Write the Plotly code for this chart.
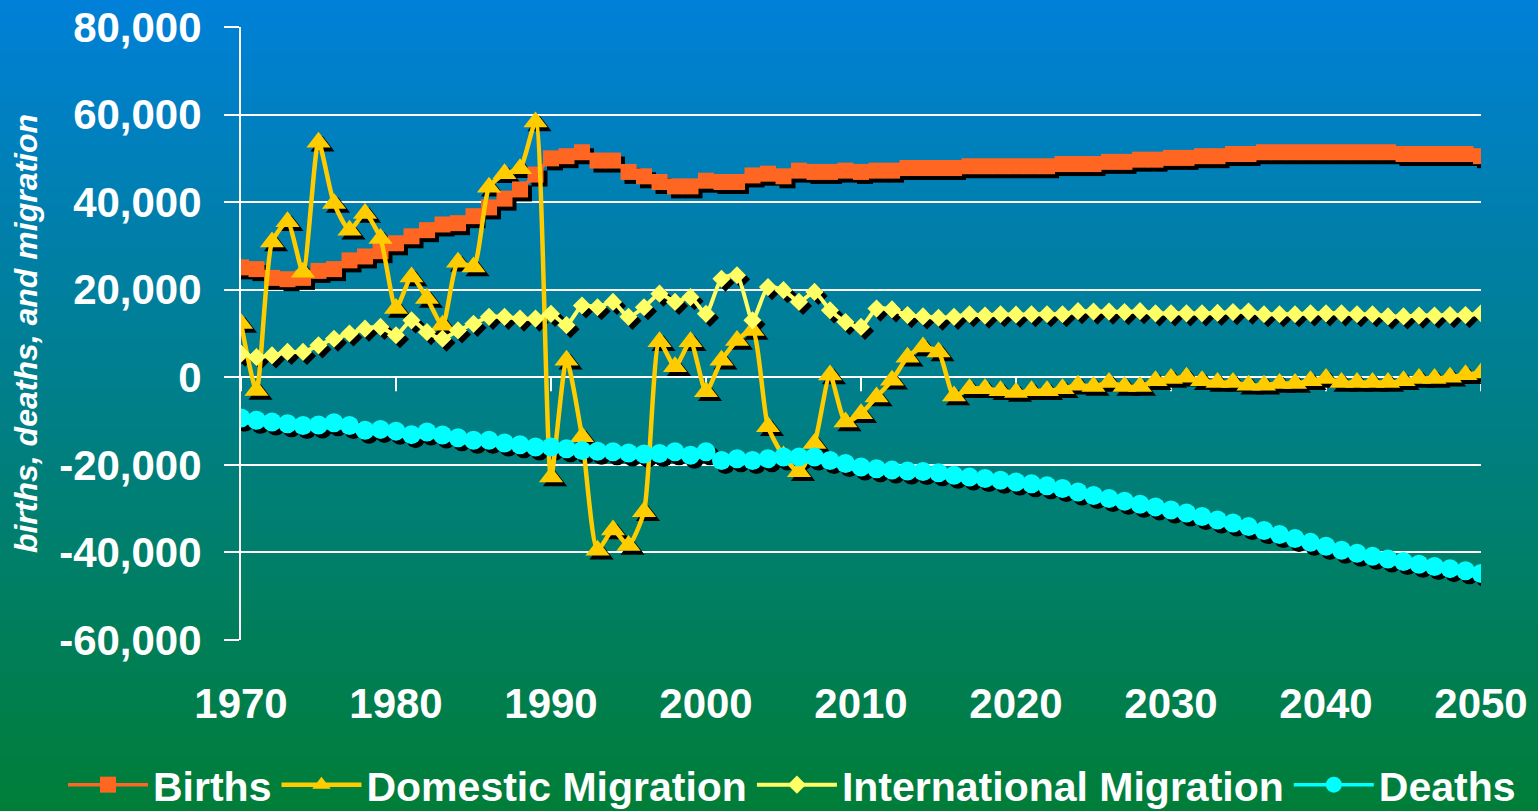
import plotly.graph_objects as go

years = list(range(1970, 2051))

births = [25100, 24700, 22700, 22400, 22700, 24300, 24700, 26700, 27600, 28800,
          30600, 32200, 33600, 34900, 35200, 36800, 38800, 40800, 42900, 46300,
          50000, 50500, 51400, 49500, 49500, 46900, 45900, 44600, 43600, 43600,
          44900, 44600, 44600, 46100, 46500, 45900, 47200, 46900, 46900, 47200,
          46900, 47200, 47200, 47800, 47800, 47800, 47800, 48200, 48200, 48200,
          48200, 48200, 48200, 48700, 48700, 48700, 49200, 49200, 49700, 49700,
          50100, 50100, 50500, 50500, 51000, 51000, 51400, 51400, 51400, 51400,
          51400, 51400, 51400, 51400, 51400, 51000, 51000, 51000, 51000, 51000,
          50500]

domestic = [12300, -3000, 30900, 35500, 24000, 53700, 39700, 33600, 37400, 31700,
            15700, 22900, 18000, 11900, 26300, 25200, 43400, 46500, 47600, 58300,
            -22800, 3900, -13600, -39500, -34900, -38400, -30700, 8100, 2400, 8100,
            -3300, 3900, 8400, 10700, -11300, -18000, -21600, -15100, 500, -10200,
            -8300, -4500, -700, 4600, 6900, 5800, -4300, -2600, -2600, -3100,
            -3500, -3100, -3100, -2600, -1800, -2100, -1200, -2100, -2100, -800,
            -300, 0, -800, -1200, -1200, -1800, -1800, -1400, -1400, -800,
            -300, -1200, -1200, -1200, -1200, -800, -300, -300, 0, 600,
            1000]

international = [5400, 4600, 5000, 5800, 5800, 7300, 8800, 10000, 11100, 11500,
                 9600, 13000, 10300, 8800, 10700, 12200, 13800, 13800, 13400, 13400,
                 14500, 11900, 16400, 16000, 17200, 13800, 16000, 19100, 17200, 18300,
                 14500, 22500, 23300, 13000, 20600, 19900, 17200, 19500, 15300, 12600,
                 11500, 15700, 15500, 14200, 13900, 13600, 13800, 14400, 14100, 14400,
                 14300, 14400, 14400, 14400, 15100, 15000, 15000, 14900, 15100, 14600,
                 14600, 14600, 14600, 14700, 14900, 15000, 14400, 14400, 14400, 14600,
                 14600, 14600, 14400, 14400, 13900, 13900, 14100, 14100, 14200, 14200,
                 14600]

deaths = [-9300, -9800, -10200, -10600, -11000, -10900, -10400, -11000, -12100, -11900,
          -12300, -13100, -12500, -13200, -13800, -14400, -14400, -15000, -15400, -15900,
          -15900, -16300, -16700, -16900, -17000, -17300, -17500, -17400, -17000, -17800,
          -17000, -19000, -18600, -19000, -18600, -18200, -18200, -18200, -19000, -19700,
          -20500, -20900, -21200, -21400, -21500, -21800, -22400, -22800, -23100, -23500,
          -23900, -24300, -24800, -25400, -26200, -27000, -27700, -28300, -29000, -29600,
          -30300, -31000, -31800, -32600, -33300, -34100, -35000, -35900, -36800, -37700,
          -38600, -39500, -40200, -40900, -41500, -42100, -42700, -43200, -43700, -44200,
          -44800]

series_names = ["Births", "Domestic Migration", "International Migration", "Deaths"]
x_ticks = list(range(1970, 2051, 10))
y_ticks = list(range(-60000, 80001, 20000))
y_tick_labels = [f"{v:,}" for v in y_ticks]
y_title = "births, deaths, and migration"

# ---- styling ----
W, H = 1538, 811
ML, MR, MT, MB = 241, 57, 27, 171
PW, PH = W - ML - MR, H - MT - MB
X_RANGE = [1970, 2050]
Y_RANGE = [-60000, 80000]
SHADOW_PX = 4
dx = SHADOW_PX * (X_RANGE[1] - X_RANGE[0]) / PW
dy = SHADOW_PX * (Y_RANGE[1] - Y_RANGE[0]) / PH

FONT = "Liberation Sans, Arial, Helvetica, sans-serif"
styles = [
    dict(color="#FF6622", symbol="square", size=16, width=3.5),
    dict(color="#FFCC00", symbol="triangle-up", size=21, width=4.5),
    dict(color="#FFFF66", symbol="diamond", size=14, width=4),
    dict(color="#00FFFF", symbol="circle", size=19, width=3.5),
]
data_series = [births, domestic, international, deaths]

fig = go.Figure()

# drop shadows (base subplot, shifted ranges)
for vals, st in zip(data_series, styles):
    fig.add_trace(go.Scatter(
        x=years, y=vals, mode="markers", xaxis="x", yaxis="y",
        marker=dict(symbol=st["symbol"], size=st["size"], color="black"),
        showlegend=False, hoverinfo="skip"))

# main series
for name, vals, st in zip(series_names, data_series, styles):
    fig.add_trace(go.Scatter(
        x=years, y=vals, name=name, mode="lines+markers", xaxis="x2", yaxis="y2",
        line=dict(color=st["color"], width=st["width"], shape="spline", smoothing=0.6),
        marker=dict(symbol=st["symbol"], size=st["size"], color=st["color"])))

# background gradient (blue top -> green bottom)
shapes = []
N = 160
top_rgb = (0, 128, 216)
bot_rgb = (0, 126, 56)
y_lo = -MB / PH
y_hi = (H - MB) / PH
x_lo = -ML / PW
x_hi = (W - ML) / PW
for i in range(N):
    f = (i + 0.5) / N
    c = tuple(round(top_rgb[k] + (bot_rgb[k] - top_rgb[k]) * f) for k in range(3))
    y1 = y_hi - (y_hi - y_lo) * i / N
    y0 = y_hi - (y_hi - y_lo) * (i + 1) / N
    shapes.append(dict(type="rect", xref="paper", yref="paper", layer="below",
                       x0=x_lo - 0.01, x1=x_hi + 0.01, y0=y0 - 0.003, y1=y1 + 0.003,
                       fillcolor=f"rgb{c}", line=dict(width=0)))
# small tick marks hanging from the zero line
for t in x_ticks:
    shapes.append(dict(type="line", xref="x2", yref="y2", layer="below",
                       x0=t, x1=t, ysizemode="pixel", yanchor=0, y0=0, y1=-14,
                       line=dict(color="white", width=2)))

fig.update_layout(
    width=W, height=H,
    margin=dict(l=ML, r=MR, t=MT, b=MB, autoexpand=False),
    paper_bgcolor="rgb(0,127,135)",
    plot_bgcolor="rgba(0,0,0,0)",
    shapes=shapes,
    showlegend=True,
    xaxis=dict(range=[X_RANGE[0] - dx, X_RANGE[1] - dx], visible=False, fixedrange=True),
    yaxis=dict(range=[Y_RANGE[0] + dy, Y_RANGE[1] + dy], visible=False, fixedrange=True),
    xaxis2=dict(overlaying="x", anchor="y2", range=X_RANGE,
                tickvals=x_ticks, ticks="", showgrid=False, showline=False, zeroline=False,
                tickfont=dict(family=FONT, size=42, color="white", weight="bold"),
                ticklabelstandoff=35),
    yaxis2=dict(overlaying="y", anchor="x2", range=Y_RANGE,
                tickvals=y_ticks, ticktext=y_tick_labels,
                ticks="outside", ticklen=15, tickwidth=2, tickcolor="white",
                showgrid=True, gridcolor="white", gridwidth=2, zeroline=False,
                showline=True, linecolor="white", linewidth=2,
                tickfont=dict(family=FONT, size=42, color="white", weight="bold"),
                ticklabelstandoff=14,
                title=dict(text=y_title, standoff=12,
                           font=dict(family=FONT, size=32, color="white",
                                     weight="bold", style="italic"))),
    legend=dict(orientation="h", xref="paper", yref="paper",
                x=(63 - ML) / PW, y=-(785 - (H - MB)) / PH,
                xanchor="left", yanchor="middle",
                bgcolor="rgba(0,0,0,0)", itemwidth=80,
                font=dict(family=FONT, size=41, color="white", weight="bold")),
)

fig.write_html("out.html",
               config={"displayModeBar": False},
               post_script="document.body.style.margin='0';"
                           "document.documentElement.style.overflow='hidden';")
